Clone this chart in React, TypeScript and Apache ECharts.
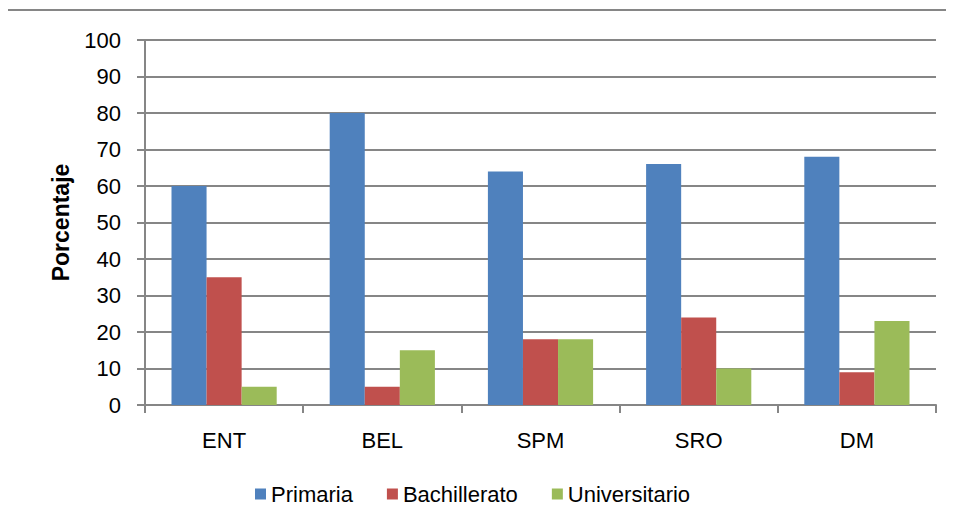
import React, { useEffect, useRef } from "react";
import * as echarts from "echarts";

const categories = ["ENT", "BEL", "SPM", "SRO", "DM"];
const primaria = [60, 80, 64, 66, 68];
const bachillerato = [35, 5, 18, 24, 9];
const universitario = [5, 15, 18, 10, 23];
const seriesNames = ["Primaria", "Bachillerato", "Universitario"];
const colors = ["#4F81BD", "#C0504D", "#9BBB59"];

const FONT = "'Liberation Sans', Arial, sans-serif";

export default function App() {
  const ref = useRef<HTMLDivElement>(null);
  useEffect(() => {
    const chart = echarts.init(ref.current!, null, { renderer: "svg" });
    const data = [primaria, bachillerato, universitario];
    chart.setOption({
      animation: false,
      textStyle: { fontFamily: FONT },
      graphic: [
        {
          type: "rect",
          shape: { x: 6, y: 10, width: 960, height: 540 },
          style: { fill: "none", stroke: "#868686", lineWidth: 2 },
          silent: true,
        },
      ],
      grid: { left: 145, top: 40, right: 18, bottom: 124, containLabel: false },
      legend: {
        bottom: 19,
        left: 250,
        itemWidth: 11,
        itemHeight: 11,
        itemGap: 34,
        icon: "rect",
        textStyle: { fontSize: 22, color: "#000", fontFamily: FONT },
        data: seriesNames,
      },
      xAxis: {
        type: "category",
        data: categories,
        axisLine: { lineStyle: { color: "#868686", width: 2 } },
        axisTick: { show: true, length: 8, alignWithLabel: false, lineStyle: { color: "#868686", width: 2 } },
        axisLabel: { fontSize: 22, color: "#000", margin: 24, fontFamily: FONT },
      },
      yAxis: {
        type: "value",
        min: 0,
        max: 100,
        interval: 10,
        name: "Porcentaje",
        nameLocation: "middle",
        nameGap: 73,
        nameTextStyle: { fontSize: 23, fontWeight: "bold", color: "#000", fontFamily: FONT },
        axisLine: { show: true, lineStyle: { color: "#868686", width: 2 } },
        axisTick: { show: true, length: 8, lineStyle: { color: "#868686", width: 2 } },
        splitLine: { show: true, lineStyle: { color: "#868686", width: 2 } },
        axisLabel: { fontSize: 22, color: "#000", margin: 24, fontFamily: FONT },
      },
      series: seriesNames.map((n, i) => ({
        name: n,
        type: "bar",
        data: data[i],
        barGap: "0%",
        barCategoryGap: "33.5%",
        itemStyle: { color: colors[i] },
      })),
    });
    return () => chart.dispose();
  }, []);
  return <div ref={ref} style={{ width: 954, height: 529, margin: -8 }} />;
}
